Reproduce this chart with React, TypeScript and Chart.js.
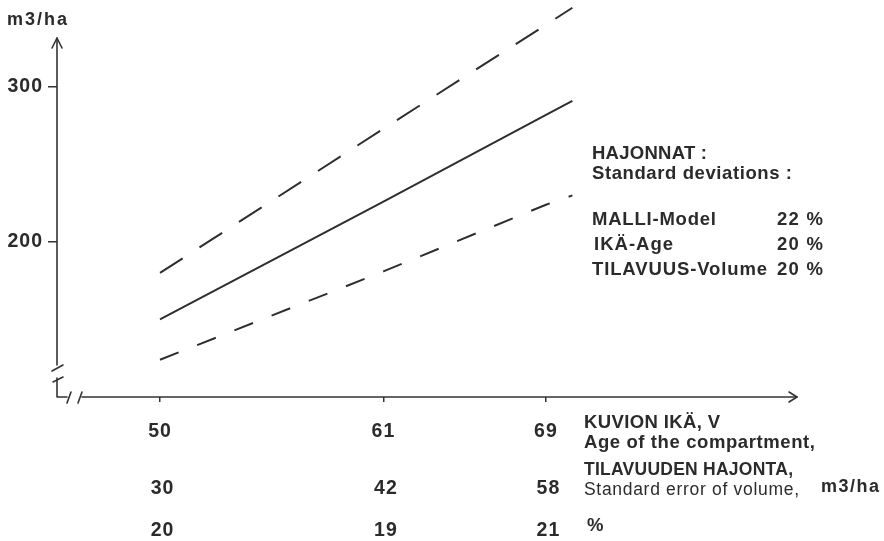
import { useEffect, useRef } from "react";
import { Chart, registerables } from "chart.js";

Chart.register(...registerables);

// ---- data ----
const lineAges = [50, 61, 69, 70.3];
const meanVolume = [150, 226, 282, 291];
const upperVolume = [180, 273, 340, 351];
const lowerVolume = [124, 181, 224, 230];

const ageTicks = [50, 61, 69];
const volumeErrorTicks = [30, 42, 58];
const percentErrorTicks = [20, 19, 21];
const volumeTicks = [200, 300];

const deviationLabels = ["MALLI-Model", "IKÄ-Age", "TILAVUUS-Volume"];
const deviationValues = [22, 20, 20];

const INK = "#2b2b2b";
const FAMILY = "'Liberation Sans', Arial, sans-serif";
const TICK_SIZE = 19.5;
const TICK_SPACING = 1;

function fitText(
  ctx: CanvasRenderingContext2D,
  text: string,
  x: number,
  capCenterY: number,
  width: number,
  size: number,
  weight: string
) {
  ctx.save();
  ctx.font = `${weight} ${size}px ${FAMILY}`;
  (ctx as any).letterSpacing = "0px";
  const w = ctx.measureText(text).width;
  const n = Array.from(text).length;
  const ls = n > 1 ? (width - w) / (n - 1) : 0;
  (ctx as any).letterSpacing = `${ls}px`;
  ctx.textBaseline = "alphabetic";
  ctx.textAlign = "left";
  ctx.fillStyle = INK;
  ctx.fillText(text, x, capCenterY + 0.358 * size);
  ctx.restore();
}

function centeredNumber(
  ctx: CanvasRenderingContext2D,
  text: string,
  cx: number,
  capCenterY: number
) {
  ctx.save();
  ctx.font = `bold ${TICK_SIZE}px ${FAMILY}`;
  (ctx as any).letterSpacing = `${TICK_SPACING}px`;
  ctx.textBaseline = "alphabetic";
  ctx.textAlign = "left";
  ctx.fillStyle = INK;
  const w = ctx.measureText(text).width - TICK_SPACING;
  ctx.fillText(text, cx - w / 2, capCenterY + 0.358 * TICK_SIZE);
  ctx.restore();
}

const decorPlugin = {
  id: "decor",
  beforeDraw(chart: any) {
    chart.ctx.letterSpacing = `${TICK_SPACING}px`;
  },
  beforeDatasetsDraw(chart: any) {
    chart.ctx.letterSpacing = "0px";
  },
  afterDraw(chart: any) {
    const ctx: CanvasRenderingContext2D = chart.ctx;
    const { left: L, bottom: B } = chart.chartArea;
    const xs = chart.scales.x;

    ctx.save();
    (ctx as any).letterSpacing = "0px";
    ctx.strokeStyle = "#333";
    ctx.lineWidth = 1.6;
    ctx.lineCap = "round";
    ctx.lineJoin = "round";

    const seg = (pts: number[][]) => {
      ctx.beginPath();
      ctx.moveTo(pts[0][0], pts[0][1]);
      for (let i = 1; i < pts.length; i++) ctx.lineTo(pts[i][0], pts[i][1]);
      ctx.stroke();
    };

    // y axis with arrow and break
    seg([[L, B - 32], [L, 38]]);
    seg([[L - 5, 48], [L, 38], [L + 5, 48]]);
    seg([[L - 5, B - 26], [L + 6, B - 32]]);
    seg([[L - 4, B - 15], [L + 6, B - 20]]);
    seg([[L, B - 19], [L, B], [L + 10, B]]);

    // x axis with break and arrow
    seg([[L + 10, B + 6], [L + 14, B - 5]]);
    seg([[L + 21, B + 6], [L + 25, B - 5]]);
    seg([[L + 25, B], [797, B]]);
    seg([[789, B - 5], [797, B], [789, B + 5]]);
    ctx.restore();

    // y axis unit
    fitText(ctx, "m3/ha", 7, 19, 60, 18, "bold");

    // legend block
    fitText(ctx, "HAJONNAT :", 592, 152, 115, 18.5, "bold");
    fitText(ctx, "Standard deviations :", 592, 172, 200, 18.5, "bold");
    const rowY = [218, 243, 268];
    const labelW = [124, 79, 175];
    const labelX = [592, 594, 592];
    deviationLabels.forEach((lab, i) => {
      fitText(ctx, lab, labelX[i], rowY[i], labelW[i], 18.5, "bold");
      fitText(ctx, `${deviationValues[i]} %`, 777, rowY[i], 46, 18.5, "bold");
    });

    // x axis captions
    fitText(ctx, "KUVION IKÄ, V", 584, 421, 136, 18.5, "bold");
    fitText(ctx, "Age of the compartment,", 584, 441, 231, 18.5, "bold");
    fitText(ctx, "TILAVUUDEN HAJONTA,", 584, 469, 209, 17.5, "bold");
    fitText(ctx, "Standard error of volume,", 584, 489, 215, 17.5, "normal");
    fitText(ctx, "m3/ha", 821, 486, 58, 18, "bold");
    fitText(ctx, "%", 587, 524, 15, 18.5, "bold");

    // extra rows under the age ticks
    ageTicks.forEach((age, i) => {
      const px = xs.getPixelForValue(age) + 2;
      centeredNumber(ctx, String(volumeErrorTicks[i]), px, 487);
      centeredNumber(ctx, String(percentErrorTicks[i]), px, 529);
    });
  },
};

export default function App() {
  const ref = useRef<HTMLCanvasElement>(null);

  useEffect(() => {
    const tickFont = { family: FAMILY, size: TICK_SIZE, weight: "bold" as const };
    const mk = (vals: number[]) => lineAges.map((x, i) => ({ x, y: vals[i] }));
    const chart = new Chart(ref.current!, {
      type: "line",
      data: {
        datasets: [
          {
            data: mk(upperVolume),
            borderColor: "#2e2e2e",
            borderWidth: 2,
            borderDash: [27, 20],
            pointRadius: 0,
            tension: 0,
            clip: false as any,
          },
          {
            data: mk(meanVolume),
            borderColor: "#2e2e2e",
            borderWidth: 2,
            pointRadius: 0,
            tension: 0,
          },
          {
            data: mk(lowerVolume),
            borderColor: "#2e2e2e",
            borderWidth: 2,
            borderDash: [20, 20],
            pointRadius: 0,
            tension: 0,
          },
        ],
      },
      options: {
        responsive: false,
        animation: false,
        devicePixelRatio: 1,
        layout: { padding: 0 },
        plugins: {
          legend: { display: false },
          tooltip: { enabled: false },
        },
        events: [],
        scales: {
          x: {
            type: "linear",
            min: 44.93,
            max: 85.64,
            afterBuildTicks: (s: any) => {
              s.ticks = ageTicks.map((v) => ({ value: v }));
            },
            ticks: {
              font: tickFont,
              color: INK,
              padding: 18,
              autoSkip: false,
              maxRotation: 0,
              callback: (v: any) => String(v),
            },
            grid: {
              drawOnChartArea: false,
              drawTicks: true,
              tickLength: 5,
              color: "#333",
              lineWidth: 1.5,
            },
            border: { display: false },
            afterFit: (s: any) => {
              s.height = 144;
              s.paddingLeft = 0;
              s.paddingRight = 0;
            },
          },
          y: {
            type: "linear",
            min: 100,
            max: 356,
            afterBuildTicks: (s: any) => {
              s.ticks = volumeTicks.map((v) => ({ value: v }));
            },
            ticks: {
              font: tickFont,
              color: INK,
              padding: 5,
              callback: (v: any) => String(v),
            },
            grid: {
              drawOnChartArea: false,
              drawTicks: true,
              tickLength: 9,
              color: "#333",
              lineWidth: 1.5,
            },
            border: { display: false },
            afterFit: (s: any) => {
              s.width = 57;
              s.paddingTop = 0;
              s.paddingBottom = 0;
            },
          },
        },
      },
      plugins: [decorPlugin],
    });
    return () => chart.destroy();
  }, []);

  return (
    <div
      style={{
        position: "fixed",
        left: 0,
        top: 0,
        width: 884,
        height: 541,
        background: "#fff",
      }}
    >
      <canvas
        ref={ref}
        width={884}
        height={541}
        style={{ display: "block", width: 884, height: 541 }}
      />
    </div>
  );
}
